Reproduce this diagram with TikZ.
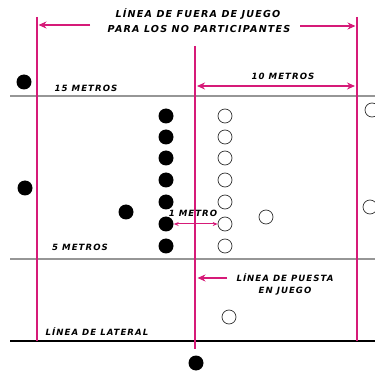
\documentclass[tikz,border=0pt]{standalone}
\usepackage{fontspec}
\setmainfont{DejaVu Sans}
\newfontfamily\lblfont[LetterSpace=12]{DejaVu Sans}
\usetikzlibrary{arrows.meta}
\definecolor{mag}{RGB}{214,26,120}
\definecolor{grayline}{RGB}{150,150,150}
\begin{document}
\begin{tikzpicture}[x=1pt,y=-1pt,
  lbl/.style={font=\lblfont\bfseries\itshape\fontsize{9.6}{10}\selectfont, inner sep=0pt, align=center},
  slbl/.style={font=\lblfont\bfseries\itshape\fontsize{8.6}{9}\selectfont, inner sep=0pt},
  bdot/.style={circle, fill=black, minimum size=15pt, inner sep=0pt},
  wdot/.style={circle, draw=black!80, line width=0.7pt, fill=white, minimum size=14pt, inner sep=0pt},
  magline/.style={draw=mag, line width=2.5pt},
  magarrow/.style={draw=mag, line width=1.5pt, -{Stealth[length=8pt,width=7pt]}},
  magarrows/.style={draw=mag, line width=1.5pt, {Stealth[length=8pt,width=7pt]}-{Stealth[length=8pt,width=7pt]}},
  smallarrows/.style={draw=mag, line width=1pt, {Stealth[length=5pt,width=4pt]}-{Stealth[length=5pt,width=4pt]}},
  gline/.style={draw=grayline, line width=1.5pt}
]
\useasboundingbox (0,0) rectangle (375,374);
% field lines
\coordinate (g1a) at (10,96); \coordinate (g1b) at (375,96);
\coordinate (g2a) at (10,259); \coordinate (g2b) at (375,259);
\coordinate (la) at (10,341); \coordinate (lb) at (375,341);
\draw[gline] (g1a) -- (g1b);
\draw[gline] (g2a) -- (g2b);
\draw[line width=2pt] (la) -- (lb);
% magenta verticals
\coordinate (l1) at (37,17); \coordinate (l2) at (37,341);
\coordinate (m1) at (195,46); \coordinate (m2) at (195,349);
\coordinate (r1) at (357,17); \coordinate (r2) at (357,341);
\draw[magline] (l1) -- (l2);
\draw[magline] (m1) -- (m2);
\draw[magline] (r1) -- (r2);
% top labels
\node[lbl] (t1) at (198,14) {LÍNEA DE FUERA DE JUEGO};
\node[lbl] (t2) at (199,29) {PARA LOS NO PARTICIPANTES};
\coordinate (ta1) at (90,25); \coordinate (ta2) at (38.5,25);
\coordinate (tb1) at (300,26); \coordinate (tb2) at (355.5,26);
\draw[magarrow] (ta1) -- (ta2);
\draw[magarrow] (tb1) -- (tb2);
% 10 metros
\coordinate (d1) at (197,86); \coordinate (d2) at (355,86);
\draw[magarrows] (d1) -- (d2);
\node[slbl] (ten) at (283,76) {10 METROS};
\node[slbl] (fif) at (86,88) {15 METROS};
\node[slbl] (five) at (80,247) {5 METROS};
% black dots
\node[bdot] (b0) at (24,82) {};
\node[bdot] (b1) at (25,188) {};
\node[bdot] (b2) at (126,212) {};
\foreach \i/\y in {1/116,2/137,3/158,4/180,5/202,6/224,7/246}{
  \node[bdot] (c\i) at (166,\y) {};
  \node[wdot] (w\i) at (225,\y) {};
}
\node[bdot] (b3) at (196,363) {};
% other white circles
\node[wdot] (o1) at (266,217) {};
\node[wdot] (o2) at (370,207) {};
\node[wdot] (o3) at (372,110) {};
\node[wdot] (o4) at (229,317) {};
% 1 metro
\draw[smallarrows] (c6.east) -- (w6.west);
\node[slbl] (one) at (193,213) {1 METRO};
% puesta en juego
\node[slbl, align=center] (pj) at (285,284) {LÍNEA DE PUESTA\\[3pt]EN JUEGO};
\coordinate (pa1) at (227,278); \coordinate (pa2) at (197.5,278);
\draw[magarrow] (pa1) -- (pa2);
\node[slbl] (lat) at (97,332) {LÍNEA DE LATERAL};
\end{tikzpicture}
\end{document}
